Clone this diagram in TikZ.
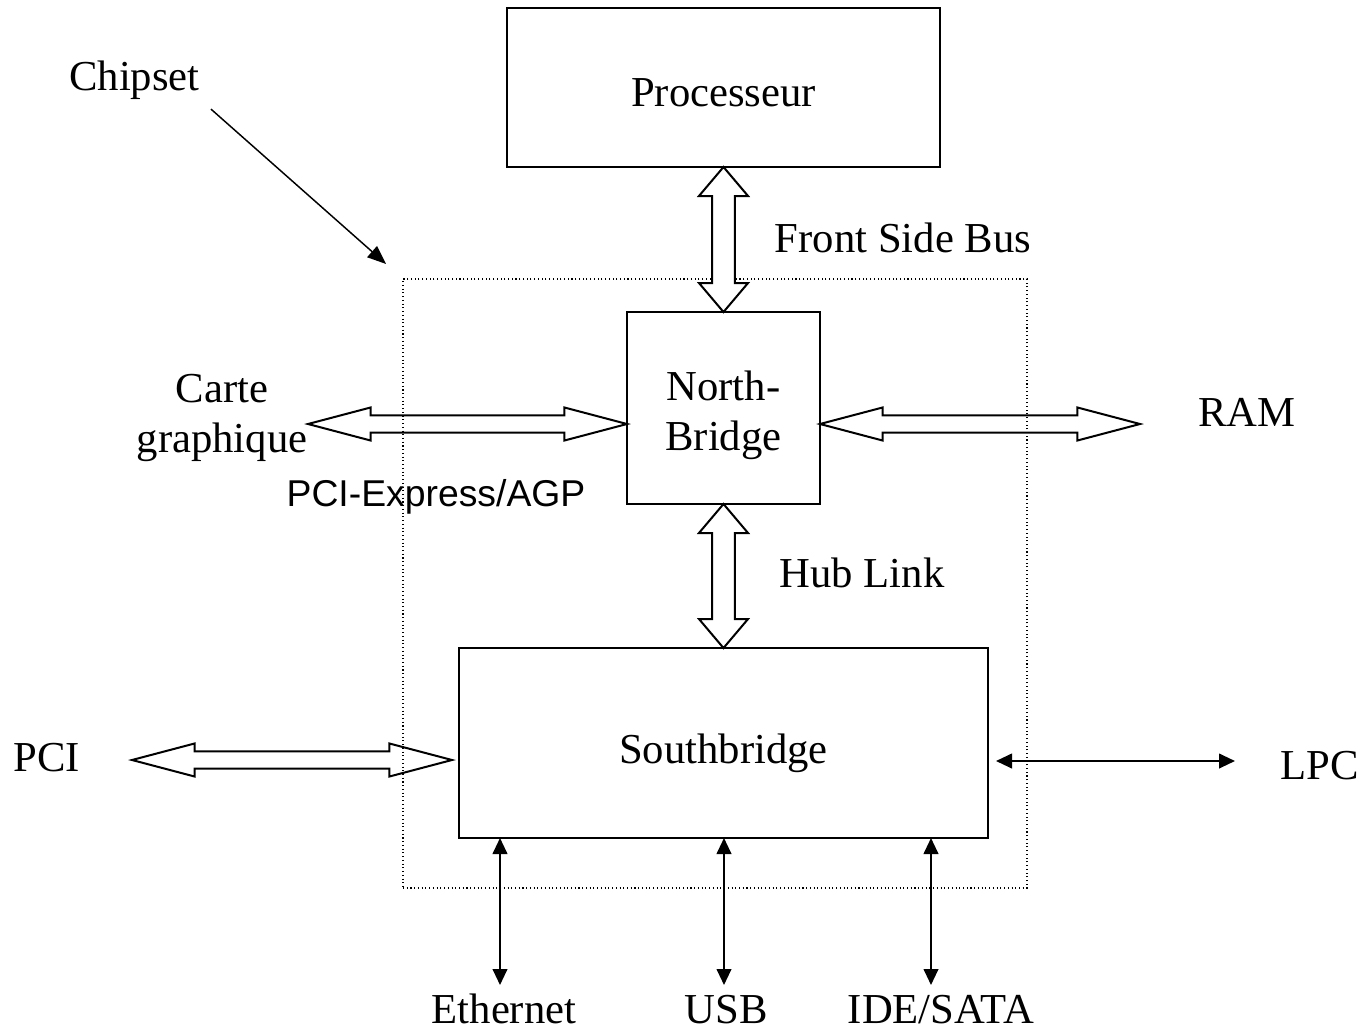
\documentclass[tikz,border=0pt]{standalone}
\usepackage{fontspec}
\setmainfont{Liberation Serif}
\newfontfamily\arialfont{Liberation Sans}
\usetikzlibrary{calc,arrows.meta}

\tikzset{
  box/.style={draw, line width=1.5pt, fill=white, outer sep=0pt, align=center,
    font=\fontsize{32}{37.5}\selectfont},
  lbl/.style={inner sep=0pt, align=center, font=\fontsize{32}{37.5}\selectfont},
  chipframe/.style={draw, dotted, line width=0.8pt, inner sep=0pt, outer sep=0pt},
  thinarrow/.style={line width=1.5pt,
    {Triangle[length=12pt,width=11pt]}-{Triangle[length=12pt,width=11pt]}},
  fatarrow/.style={line width=1.5pt, line join=miter},
}

% #2 -> #3, half shaft #4, half head #5, head length #6
\newcommand{\fatarrow}[6][]{%
  \coordinate (fa1) at (#2);
  \coordinate (fa2) at (#3);
  \coordinate (fb1) at ($(fa1)!#6!(fa2)$);
  \coordinate (fb2) at ($(fa2)!#6!(fa1)$);
  \draw[fatarrow,#1] (fa1) -- ($(fb1)!#5!90:(fa2)$) -- ($(fb1)!#4!90:(fa2)$)
    -- ($(fb2)!#4!-90:(fa1)$) -- ($(fb2)!#5!-90:(fa1)$) -- (fa2)
    -- ($(fb2)!#5!90:(fa1)$) -- ($(fb2)!#4!90:(fa1)$)
    -- ($(fb1)!#4!-90:(fa2)$) -- ($(fb1)!#5!-90:(fa2)$) -- cycle;}

\begin{document}
\begin{tikzpicture}[x=0.75pt, y=-0.75pt]
\useasboundingbox (0,0) rectangle (1365,1032);

\node[chipframe, minimum width=468pt, minimum height=456.75pt] (chipbox) at (715,583.5) {};

\node[lbl, anchor=base] (chipset) at (134.5,90) {Chipset};
\node[lbl, anchor=base] (fsb) at (903,252) {Front Side Bus};
\node[lbl, anchor=base] (hub) at (862,587) {Hub Link};
\node[lbl] (gfx) at (222,418) {Carte\\graphique};
\node[lbl, anchor=base, font=\arialfont\fontsize{28}{32}\selectfont] (pcie) at (436,506) {PCI-Express/AGP};
\node[lbl, anchor=base] (ram) at (1247,426) {RAM};
\node[lbl, anchor=base] (pci) at (47,771) {PCI};
\node[lbl, anchor=base] (lpc) at (1320,779) {LPC};
\node[lbl, anchor=base] (eth) at (504,1023) {Ethernet};
\node[lbl, anchor=base] (usb) at (726,1023) {USB};
\node[lbl, anchor=base] (ide) at (941,1023) {IDE/SATA};

\coordinate (gfxend) at (308,424);
\coordinate (ramend) at (1140,424);
\coordinate (pciend) at (132,760);
\coordinate (lpcend) at (1235,761);
\coordinate (ethend) at (500,985);
\coordinate (usbend) at (724,985);
\coordinate (ideend) at (931,985);

\node[box, minimum width=324.75pt, minimum height=119.25pt, text height=29pt, text depth=0pt] (proc) at (723.5,87.5) {Processeur};
\node[box, minimum width=144.75pt, minimum height=144pt, text height=70pt, text depth=7pt] (nb) at (723.5,408) {North-\\Bridge};
\node[box, minimum width=396.75pt, minimum height=142.5pt, text height=31pt, text depth=0pt] (sb) at (723.5,743) {Southbridge};

\fatarrow{gfxend}{nb.west |- gfxend}{6.4pt}{12.4pt}{47pt}
\fatarrow{nb.east |- ramend}{ramend}{6.4pt}{12.4pt}{47pt}
\fatarrow{pciend}{$(sb.west |- pciend)+(-7,0)$}{6.4pt}{12.4pt}{47pt}
\fatarrow[fill=white]{proc.south}{nb.north}{8.6pt}{18.4pt}{21.75pt}
\fatarrow[fill=white]{nb.south}{sb.north}{8.6pt}{18.4pt}{21.75pt}

\draw[thinarrow, shorten <=6pt] (sb.east |- lpcend) -- (lpcend);
\draw[thinarrow] (sb.south -| ethend) -- (ethend);
\draw[thinarrow] (sb.south -| usbend) -- (usbend);
\draw[thinarrow] (sb.south -| ideend) -- (ideend);

\draw[line width=1.1pt, -{Triangle[length=14pt,width=11pt]}, shorten <=11pt, shorten >=17pt]
  (chipset.south east) -- (chipbox.north west);
\end{tikzpicture}
\end{document}
